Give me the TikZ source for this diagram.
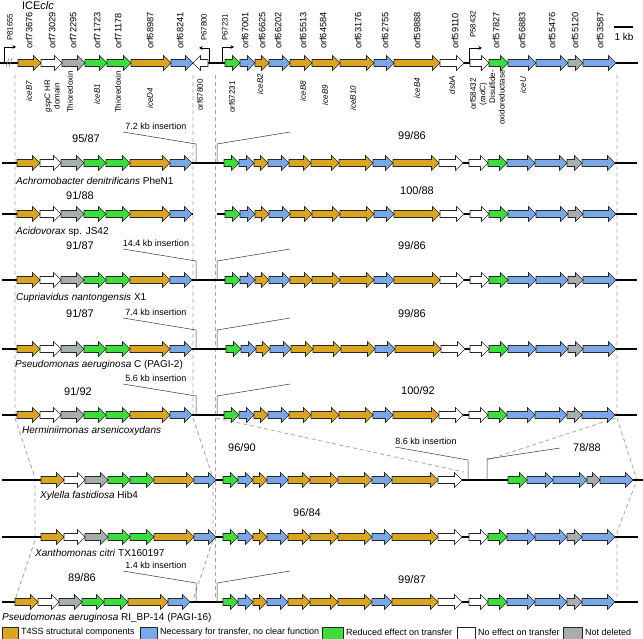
\documentclass[tikz,border=0pt]{standalone}
\usepackage{fontspec}
\setmainfont{Liberation Sans}
\usetikzlibrary{arrows.meta}
\definecolor{cY}{RGB}{218,165,32}
\definecolor{cB}{RGB}{122,168,230}
\definecolor{cGn}{RGB}{60,222,60}
\definecolor{cGy}{RGB}{168,174,174}
\definecolor{cW}{RGB}{255,255,255}
\definecolor{dashgray}{RGB}{165,165,165}
\tikzset{
 genebox/.style={draw=black!85, line width=0.6pt, line join=miter},
 backbone/.style={line width=1.5pt, black},
 guide/.style={draw=dashgray, line width=0.8pt, dash pattern=on 4pt off 3pt},
 insline/.style={line width=0.5pt, black!80},
 toplbl/.style={rotate=90, anchor=west, inner sep=0pt, font=\fontsize{9.2}{10}\selectfont},
 botlbl/.style={rotate=90, inner sep=0pt, font=\fontsize{8}{9.5}\selectfont, align=center},
 prolbl/.style={rotate=90, anchor=west, inner sep=0pt, font=\fontsize{7.8}{8}\selectfont},
 pct/.style={font=\fontsize{11}{12}\selectfont, inner sep=0pt},
 ins/.style={font=\fontsize{9}{10}\selectfont, inner sep=0pt},
 sp/.style={font=\fontsize{10}{11}\selectfont, anchor=west, inner sep=0pt},
 leg/.style={font=\fontsize{9}{10}\selectfont, anchor=west, inner sep=0pt},
 prom/.style={line width=0.7pt, -{Stealth[length=3.5pt,width=3.5pt]}},
}
\newcommand{\gene}[4]{%
  \pgfmathsetmacro{\ga}{#1}%
  \pgfmathsetmacro{\gb}{#2}%
  \pgfmathsetmacro{\gh}{\gb-min(7.5,\gb-\ga)}%
  \filldraw[genebox,fill=#3] (\ga,#4-3.5) -- (\gh,#4-3.5) -- (\gh,#4-7.5) -- (\gb,#4) -- (\gh,#4+7.5) -- (\gh,#4+3.5) -- (\ga,#4+3.5) -- cycle;}
\newcommand{\leftblock}[2]{%
  \foreach \xs/\xe/\gcol in {0/23/cY,23/44/cW,44/67/cGy,67/89/cGn,89/113/cGn,113/153/cY,153/175/cB}{\gene{#1+\xs}{#1+\xe}{\gcol}{#2}}}
\newcommand{\rightA}[2]{%
  \foreach \xs/\xe/\gcol in {225/240/cGn,240/255/cB,255/269/cY,269/290/cB,290/312/cY,312/340/cY,340/374/cY,374/394/cB,394/440/cY,440/464/cW}{\gene{#1+\xs}{#1+\xe}{\gcol}{#2}}}
\newcommand{\rightB}[2]{%
  \foreach \xs/\xe/\gcol in {470/489/cW,489/508/cGn,508/536/cB,536/568/cB,568/583/cGy,583/616/cB}{\gene{#1+\xs}{#1+\xe}{\gcol}{#2}}}
\newcommand{\insmark}[3]{%
  \draw[insline] (196,#1) -- (196,#1-19) -- (123,#1-31);
  \draw[insline] (217,#1) -- (217,#1-19) -- (290,#1-31);
  \node[ins] (#3) at (156,#1-37) {#2};}
\begin{document}
\begin{tikzpicture}[x=1pt,y=-1pt]
\useasboundingbox (0,0) rectangle (643,639);
% guides
\draw[guide] (15,75) -- (15,418) -- (35,478) -- (35,540) -- (15,600);
\draw[guide] (193,75) -- (193,418) -- (213,478) -- (213,540) -- (193,600);
\draw[guide] (215,75) -- (215,600);
\draw[guide] (617,75) -- (617,418) -- (637,480) -- (617,532) -- (617,600);
\draw[guide] (216,418) -- (464,472);
\draw[guide] (616,418) -- (487,460);
% row 0
\draw[backbone] (0,63) -- (638,63);
\draw[gray, line width=0.6pt] (6,67) -- (9,58) (9,67) -- (12,58);
\leftblock{18}{63}
\filldraw[genebox,fill=white] (208,59.5) -- (200.5,59.5) -- (200.5,55.5) -- (193,63) -- (200.5,70.5) -- (200.5,66.5) -- (208,66.5) -- cycle;
\rightA{0}{63}
\rightB{0}{63}
\draw[prom] (4,63) -- (4,47) -- (16,47);
\draw[prom] (209,63) -- (209,48) -- (199,48);
\draw[prom] (222,63) -- (222,47) -- (234,47);
\draw[prom] (469,63) -- (469,48) -- (482,48);
\node[font=\fontsize{11}{12}\selectfont, inner sep=0pt] (ice) at (38,6) {ICE\textit{clc}};
\draw[line width=1.5pt] (614,27) -- (633,27);
\node[font=\fontsize{10}{11}\selectfont, inner sep=0pt] (kb) at (624,37) {1 kb};
% top labels
\node[prolbl] (p1) at (10,41) {P81655};
\node[prolbl] (p2) at (204,41) {P67800};
\node[prolbl] (p3) at (225,41) {P67231};
\node[prolbl] (p4) at (473,38) {P58432};
\foreach \lx/\lt [count=\i] in {29/orf73676,52/orf73029,73/orf72295,97/orf71723,118/orf71178,150/orf68987,180/orf68241,245/orf67001,262/orf66625,278/orf66202,303/orf65513,323/orf64584,358/orf63176,385/orf62755,417/orf59888,455/orf59110,496/orf57827,522/orf56883,552/orf55476,575/orf55120,600/orf53587}
  \node[toplbl] (t\i) at (\lx,49) {\lt};
% bottom labels
\node[botlbl] (b1) at (29,91) {\textit{iceB7}};
\node[botlbl] (b2) at (52,96) {\textit{gspC} HR\\domain};
\node[botlbl] (b3) at (70,92) {Thioredoxin};
\node[botlbl] (b4) at (97,94) {\textit{iceB1}};
\node[botlbl] (b5) at (118,92) {Thioredoxin};
\node[botlbl] (b6) at (150,98) {\textit{iceD4}};
\node[botlbl] (b7) at (200,95) {orf67800};
\node[botlbl] (b8) at (232,97) {orf67231};
\node[botlbl] (b9) at (260,84) {\textit{iceB2}};
\node[botlbl] (b10) at (303,91) {\textit{iceB8}};
\node[botlbl] (b11) at (325,95) {\textit{iceB9}};
\node[botlbl] (b12) at (353,98) {\textit{iceB10}};
\node[botlbl] (b13) at (417,88) {\textit{iceB4}};
\node[botlbl] (b14) at (452,85) {\textit{dsbA}};
\node[botlbl] (b15) at (478.5,94) {orf58432\\(\textit{radC})};
\node[botlbl, align=right, anchor=east] (b16) at (497,70) {Disulfide-\\oxidoreductase};
\node[botlbl] (b17) at (523,85) {\textit{iceU}};
% row 1
\draw[backbone] (2,163) -- (637,163);
\leftblock{17}{163}
\rightA{-1}{163}\rightB{-1}{163}
\insmark{163}{7.2 kb insertion}{i1}
\node[pct] (q1a) at (86,139) {95/87};
\node[pct] (q1b) at (412,136) {99/86};
\node[sp] (s1) at (16,181) {\textit{Achromobacter denitrificans} PheN1};
% row 2
\draw[backbone] (2,214) -- (193,214);
\draw[backbone] (217,214) -- (637,214);
\leftblock{17}{214}
\rightA{0}{214}\rightB{0}{214}
\node[pct] (q2a) at (80,196) {91/88};
\node[pct] (q2b) at (417,191) {100/88};
\node[sp] (s2) at (16,232) {\textit{Acidovorax} sp. JS42};
% row 3
\draw[backbone] (2,280) -- (637,280);
\leftblock{17}{280}
\rightA{0}{280}\rightB{0}{280}
\insmark{280}{14.4 kb insertion}{i3}
\node[pct] (q3a) at (80,246) {91/87};
\node[pct] (q3b) at (412,246) {99/86};
\node[sp] (s3) at (16,298) {\textit{Cupriavidus nantongensis} X1};
% row 4
\draw[backbone] (2,349) -- (637,349);
\leftblock{17}{349}
\rightA{1}{349}\rightB{0}{349}
\insmark{349}{7.4 kb insertion}{i4}
\node[pct] (q4a) at (80,314) {91/87};
\node[pct] (q4b) at (412,314) {99/86};
\node[sp] (s4) at (15,365) {\textit{Pseudomonas aeruginosa} C (PAGI-2)};
% row 5
\draw[backbone] (2,415) -- (637,415);
\leftblock{17}{415}
\rightA{-1}{415}\rightB{-1}{415}
\insmark{415}{5.6 kb insertion}{i5}
\node[pct] (q5a) at (78,392) {91/92};
\node[pct] (q5b) at (418,391) {100/92};
\node[sp] (s5) at (22,431) {\textit{Herminiimonas arsenicoxydans}};
% row 6
\draw[backbone] (2,480) -- (643,480);
\leftblock{41}{480}
\rightA{-2}{480}
\foreach \xs/\xe/\gcol in {508/527/cGn,527/553/cB,553/587/cB,587/600/cGy,600/633/cB}{\gene{\xs}{\xe}{\gcol}{480}}
\draw[insline] (468,480) -- (468,460) -- (395,447);
\draw[insline] (487,480) -- (487,459) -- (560,448);
\node[ins] (i6) at (426,441) {8.6 kb insertion};
\node[pct] (q6a) at (242,448) {96/90};
\node[pct] (q6b) at (587,448) {78/88};
\node[sp] (s6) at (40,496) {\textit{Xylella fastidiosa} Hib4};
% row 7
\draw[backbone] (2,537) -- (638,537);
\leftblock{41}{537}
\rightA{-2}{537}\rightB{-1}{537}
\node[pct] (q7) at (307,513) {96/84};
\node[sp] (s7) at (35,553) {\textit{Xanthomonas citri} TX160197};
% row 8
\draw[backbone] (2,602) -- (638,602);
\leftblock{15}{602}
\rightA{-2}{602}\rightB{-1}{602}
\insmark{602}{1.4 kb insertion}{i8}
\node[pct] (q8a) at (82,578) {89/86};
\node[pct] (q8b) at (412,580) {99/87};
\node[sp] (s8) at (2,618) {\textit{Pseudomonas aeruginosa} RI\_BP-14 (PAGI-16)};
% legend
\filldraw[genebox,fill=cY] (2,627) rectangle (18,639);
\node[leg] (l1) at (21,632.5) {T4SS structural components};
\filldraw[genebox,fill=cB] (140,627) rectangle (157,639);
\node[leg] (l2) at (160,632.5) {Necessary for transfer, no clear function};
\filldraw[genebox,fill=cGn] (322,627) rectangle (343,639);
\node[leg] (l3) at (346,632.5) {Reduced effect on transfer};
\filldraw[genebox,fill=white] (457,627) rectangle (475,639);
\node[leg] (l4) at (478,632.5) {No effect on transfer};
\filldraw[genebox,fill=cGy] (563,627) rectangle (582,639);
\node[leg] (l5) at (585,632.5) {Not deleted};
\end{tikzpicture}
\end{document}
